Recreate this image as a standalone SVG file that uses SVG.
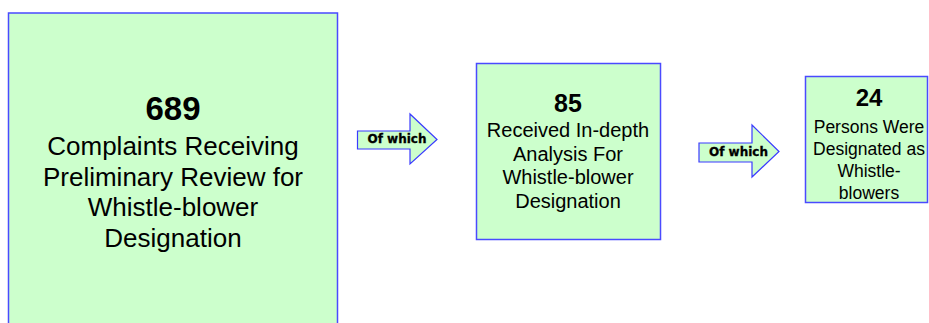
<svg xmlns="http://www.w3.org/2000/svg" width="929" height="323" viewBox="0 0 929 323">
<style>
.box{fill:#ccffcc;stroke:#4a4aff;stroke-width:1.5}
.arr{fill:#ccffcc;stroke:#3a3aff;stroke-width:1.2;stroke-linejoin:miter}
.t{font-family:"Liberation Sans",Arial,sans-serif;fill:#000;text-anchor:middle}
.b{font-weight:bold}
.ow{font-family:"DejaVu Sans",sans-serif;font-weight:bold;font-size:12px;fill:#000;text-anchor:middle;stroke:#000;stroke-width:0.3}
</style>
<rect width="929" height="323" fill="#fff"/>
<g id="node-689">
<rect class="box" x="8.5" y="13" width="329" height="320"/>
<text class="t b" x="173" y="120" font-size="33">689</text>
<text class="t" x="173" y="155" font-size="26">Complaints Receiving</text>
<text class="t" x="173" y="186" font-size="26">Preliminary Review for</text>
<text class="t" x="173" y="216" font-size="26">Whistle-blower</text>
<text class="t" x="173" y="247" font-size="26">Designation</text>
</g>
<g id="node-85">
<rect class="box" x="476.5" y="63.5" width="184" height="176"/>
<text class="t b" x="568" y="112" font-size="25">85</text>
<text class="t" x="568" y="137" font-size="20">Received In-depth</text>
<text class="t" x="568" y="161" font-size="20">Analysis For</text>
<text class="t" x="568" y="184" font-size="20">Whistle-blower</text>
<text class="t" x="568" y="208" font-size="20">Designation</text>
</g>
<g id="node-24">
<rect class="box" x="805.5" y="76.5" width="122" height="126"/>
<text class="t b" x="869" y="106" font-size="24">24</text>
<text class="t" x="869" y="133" font-size="17.5">Persons Were</text>
<text class="t" x="869" y="155" font-size="17.5">Designated as</text>
<text class="t" x="869" y="177" font-size="17.5">Whistle-</text>
<text class="t" x="869" y="199" font-size="17.5">blowers</text>
</g>
<g id="connectors">
<g id="arrow-1">
<polygon class="arr" points="357.5,131 410,131 410,114 437,139.5 410,164 410,149 357.5,149"/>
<text class="ow" x="397" y="143">Of which</text>
</g>
<g id="arrow-2">
<polygon class="arr" points="699,143 752,143 752,125 779,151.5 752,177 752,162 699,162"/>
<text class="ow" x="738.5" y="156">Of which</text>
</g>
</g>
</svg>
